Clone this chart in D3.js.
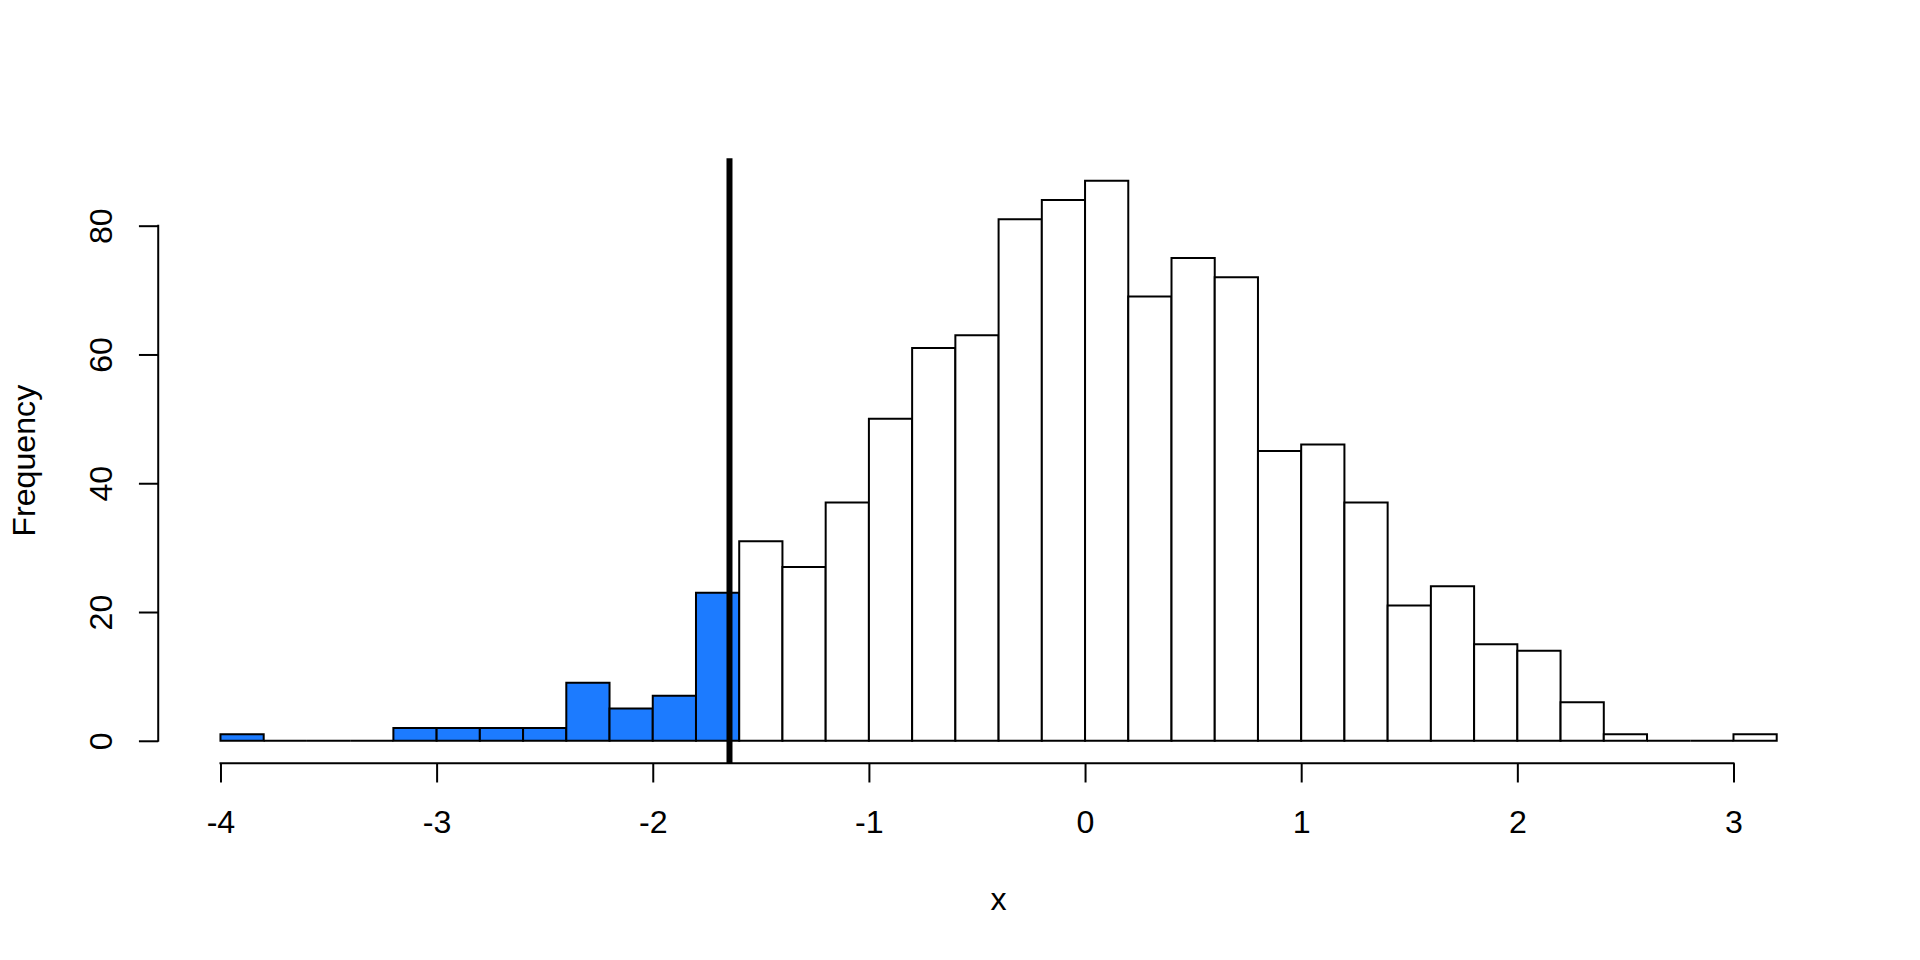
<!DOCTYPE html>
<html>
<head>
<meta charset="utf-8">
<script src="https://cdn.jsdelivr.net/npm/d3@7"></script>
<style>
  html, body { margin: 0; padding: 0; background: #ffffff; }
  svg { display: block; }
  text { font-family: "Liberation Sans", Arial, Helvetica, sans-serif; fill: #000; }
</style>
</head>
<body>
<svg id="chart" width="1920" height="960"></svg>
<script>
// ---- data ----
const binStarts = [-4.0, -3.8, -3.6, -3.4, -3.2, -3.0, -2.8, -2.6, -2.4, -2.2, -2.0, -1.8,
                   -1.6, -1.4, -1.2, -1.0, -0.8, -0.6, -0.4, -0.2, 0.0, 0.2, 0.4, 0.6,
                   0.8, 1.0, 1.2, 1.4, 1.6, 1.8, 2.0, 2.2, 2.4, 2.6, 2.8, 3.0];
const binEnds   = [-3.8, -3.6, -3.4, -3.2, -3.0, -2.8, -2.6, -2.4, -2.2, -2.0, -1.8, -1.6,
                   -1.4, -1.2, -1.0, -0.8, -0.6, -0.4, -0.2, 0.0, 0.2, 0.4, 0.6, 0.8,
                   1.0, 1.2, 1.4, 1.6, 1.8, 2.0, 2.2, 2.4, 2.6, 2.8, 3.0, 3.2];
const counts    = [1, 0, 0, 0, 2, 2, 2, 2, 9, 5, 7, 23,
                   31, 27, 37, 50, 61, 63, 81, 84, 87, 69, 75, 72,
                   45, 46, 37, 21, 24, 15, 14, 6, 1, 0, 0, 1];
const xTicks = [-4, -3, -2, -1, 0, 1, 2, 3];
const yTicks = [0, 20, 40, 60, 80];
const threshold = -1.645;
const xLabel = "x";
const yLabel = "Frequency";

// ---- layout (R-style margins) ----
const W = 1920, H = 960;
const lineH = 38.59;            // one margin line
const fontPx = lineH / 1.2;     // 12pt text
const lw = 2;                   // lwd = 1
const mar = { bottom: 5.1, left: 4.1, top: 4.1, right: 2.1 };
const plot = {
  left: mar.left * lineH,
  right: W - mar.right * lineH,
  top: mar.top * lineH,
  bottom: H - mar.bottom * lineH
};

const xMin = d3.min(binStarts), xMax = d3.max(binEnds);
const xPad = (xMax - xMin) * 0.04;
const yMax = d3.max(counts);
const yPad = yMax * 0.04;

const x = d3.scaleLinear().domain([xMin - xPad, xMax + xPad]).range([plot.left, plot.right]);
const y = d3.scaleLinear().domain([0 - yPad, yMax + yPad]).range([plot.bottom, plot.top]);

const svg = d3.select("#chart");
const fill = "#1c7bff";

const bins = counts.map((c, i) => ({ x0: binStarts[i], x1: binEnds[i], n: c }));

// ---- bars ----
svg.append("g")
  .selectAll("path")
  .data(bins)
  .join("path")
  .attr("d", d => {
    const a = x(d.x0), b = x(d.x1), y0 = y(0), y1 = y(d.n);
    return `M${a},${y0}L${a},${y1}L${b},${y1}L${b},${y0}Z`;
  })
  .attr("fill", d => d.x0 < threshold ? fill : "#ffffff")
  .attr("stroke", "#000")
  .attr("stroke-width", lw)
  .attr("stroke-linejoin", "miter");

// ---- threshold line ----
svg.append("line")
  .attr("x1", x(threshold)).attr("x2", x(threshold))
  .attr("y1", plot.top).attr("y2", plot.bottom)
  .attr("stroke", "#000")
  .attr("stroke-width", 3 * lw);

// ---- x axis ----
const tickLen = 0.5 * lineH;
const xAxis = d3.axisBottom(x)
  .tickValues(xTicks)
  .tickSize(tickLen)
  .tickSizeOuter(0)
  .tickFormat(d => String(d).replace("\u2212", "-"));
const gx = svg.append("g").attr("transform", `translate(0,${plot.bottom})`).call(xAxis);
gx.select(".domain").remove();
gx.selectAll(".tick line").attr("stroke", "#000").attr("stroke-width", lw);
gx.selectAll(".tick text")
  .attr("y", 1.8 * lineH)
  .attr("dy", null)
  .attr("font-size", fontPx)
  .attr("font-family", '"Liberation Sans", Arial, Helvetica, sans-serif')
  .attr("fill", "#000");
gx.append("line")
  .attr("x1", x(xTicks[0])).attr("x2", x(xTicks[xTicks.length - 1]))
  .attr("y1", 0).attr("y2", 0)
  .attr("stroke", "#000").attr("stroke-width", lw).attr("stroke-linecap", "square");

// ---- y axis ----
const yAxis = d3.axisLeft(y)
  .tickValues(yTicks)
  .tickSize(tickLen)
  .tickSizeOuter(0);
const gy = svg.append("g").attr("transform", `translate(${plot.left},0)`).call(yAxis);
gy.select(".domain").remove();
gy.selectAll(".tick line").attr("stroke", "#000").attr("stroke-width", lw);
gy.selectAll(".tick text")
  .attr("x", null).attr("dy", null)
  .attr("text-anchor", "middle")
  .attr("transform", `translate(${-1.2 * lineH},0) rotate(-90)`)
  .attr("font-size", fontPx)
  .attr("font-family", '"Liberation Sans", Arial, Helvetica, sans-serif')
  .attr("fill", "#000");
gy.append("line")
  .attr("x1", 0).attr("x2", 0)
  .attr("y1", y(yTicks[0])).attr("y2", y(yTicks[yTicks.length - 1]))
  .attr("stroke", "#000").attr("stroke-width", lw).attr("stroke-linecap", "square");

// ---- axis titles ----
svg.append("text")
  .attr("x", (plot.left + plot.right) / 2)
  .attr("y", plot.bottom + 3.8 * lineH)
  .attr("text-anchor", "middle")
  .attr("font-size", fontPx)
  .text(xLabel);

svg.append("text")
  .attr("transform", `translate(${plot.left - 3.2 * lineH},${(plot.top + plot.bottom) / 2}) rotate(-90)`)
  .attr("text-anchor", "middle")
  .attr("font-size", fontPx)
  .text(yLabel);
</script>
</body>
</html>
